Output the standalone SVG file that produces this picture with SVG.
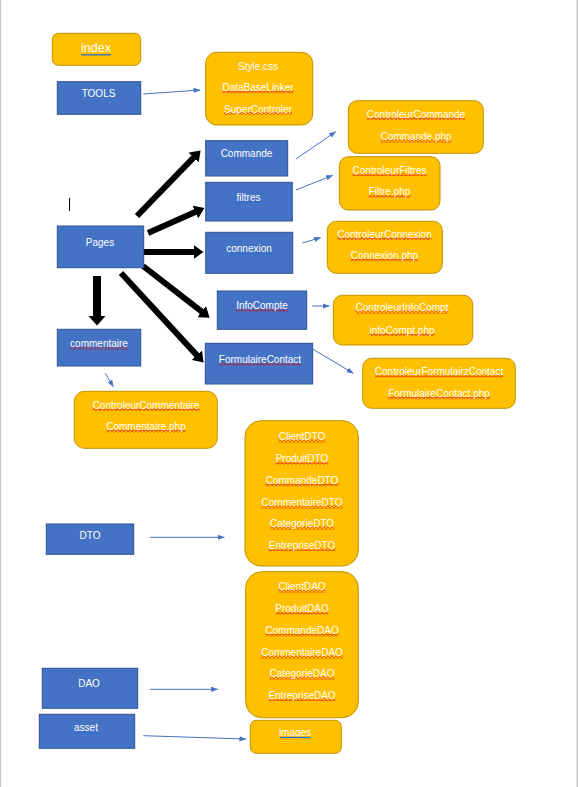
<svg xmlns="http://www.w3.org/2000/svg" width="578" height="787" viewBox="0 0 578 787">
<style>
.or{fill:#FFC000;stroke:#BF9000;stroke-width:1}
.bl{fill:#4472C4;stroke:#2F528F;stroke-width:1}
.t{font-family:"Liberation Sans",Arial,sans-serif;font-size:10px;fill:#fff;text-anchor:middle}
.wv{fill:url(#wave)}
.ul{stroke:#2F6FD0;stroke-width:1.3}
.thin{stroke:#4472C4;stroke-width:1;fill:none;marker-end:url(#ah)}
.thick{stroke:#000;stroke-width:6;fill:none;marker-end:url(#bh)}
</style>
<defs>
<pattern id="wave" patternUnits="userSpaceOnUse" width="4" height="3">
<path d="M0,2.5 L2,0.6 L4,2.5" stroke="#E00000" stroke-width="0.9" fill="none"/>
</pattern>
<marker id="ah" markerUnits="userSpaceOnUse" viewBox="0 0 8 6" markerWidth="7" markerHeight="5.5" refX="7.5" refY="3" orient="auto">
<path d="M0,0 L8,3 L0,6 z" fill="#4472C4"/>
</marker>
<marker id="bh" markerUnits="userSpaceOnUse" viewBox="0 0 10 14" markerWidth="10" markerHeight="14" refX="0.5" refY="7" orient="auto">
<path d="M0,0 L10,7 L0,14 z" fill="#000"/>
</marker>
<marker id="bh2" markerUnits="userSpaceOnUse" viewBox="0 0 10 18" markerWidth="10" markerHeight="18" refX="0.5" refY="9" orient="auto">
<path d="M0,0 L10,9 L0,18 z" fill="#000"/>
</marker>
</defs>
<rect x="0" y="0" width="578" height="787" fill="#fff"/>
<line x1="0.5" y1="0" x2="0.5" y2="787" stroke="#C6C6C6" stroke-width="1.5"/>
<line x1="577.3" y1="0" x2="577.3" y2="787" stroke="#C6C6C6" stroke-width="1.5"/>
<line x1="69.5" y1="198" x2="69.5" y2="211" stroke="#000" stroke-width="1"/>

<g id="connectors">
<line class="thin" x1="143.3" y1="94" x2="200" y2="90"/>
<line class="thin" x1="296" y1="159" x2="335.7" y2="131.7"/>
<line class="thin" x1="296" y1="190" x2="332.7" y2="175.3"/>
<line class="thin" x1="302.3" y1="243" x2="320.7" y2="237.7"/>
<line class="thin" x1="312.3" y1="306" x2="329.3" y2="306"/>
<line class="thin" x1="312.7" y1="349" x2="353.3" y2="373.3"/>
<line class="thin" x1="105.3" y1="373.3" x2="113.3" y2="386.7"/>
<line class="thin" x1="150" y1="537.3" x2="224.3" y2="537.3"/>
<line class="thin" x1="150" y1="689.3" x2="217.7" y2="689.3"/>
<line class="thin" x1="143.3" y1="735.7" x2="246" y2="739"/>
<line class="thick" x1="137" y1="216" x2="194" y2="157.2"/>
<line class="thick" x1="148" y1="233" x2="195.8" y2="211.8"/>
<line class="thick" x1="143" y1="252" x2="194" y2="252"/>
<line class="thick" x1="143" y1="266" x2="202.1" y2="311.9"/>
<line class="thick" x1="121" y1="273" x2="197.2" y2="355.6"/>
<line x1="97" y1="276" x2="97" y2="316" stroke="#000" stroke-width="8" marker-end="url(#bh2)"/>
</g>

<g id="index">
<rect class="or" x="52.3" y="33.3" width="88.4" height="32" rx="6"/>
<text class="t" x="96" y="52" style="font-size:12.5px">index</text>
<line class="ul" x1="81" y1="54.8" x2="111" y2="54.8"/>
</g>
<g id="tools">
<rect class="bl" x="57.3" y="81.7" width="83.4" height="32.6"/>
<text class="t" x="98.5" y="97">TOOLS</text>
</g>
<g id="tools-files">
<rect class="or" x="205.7" y="52.3" width="107" height="72.7" rx="11"/>
<text class="t" x="258" y="70">Style.css</text>
<rect class="wv" x="222.5" y="90.5" width="71" height="3"/>
<text class="t" x="258" y="91">DataBaseLinker</text>
<rect class="wv" x="224" y="112" width="68" height="3"/>
<text class="t" x="258" y="112.5">SuperControler</text>
</g>

<g id="commande">
<rect class="bl" x="205.7" y="140.7" width="82" height="35.3"/>
<text class="t" x="246.5" y="157">Commande</text>
</g>
<g id="commande-files">
<rect class="or" x="348.3" y="100.7" width="135" height="52.6" rx="9"/>
<rect class="wv" x="367" y="117" width="98" height="3"/>
<text class="t" x="416" y="117.5">ControleurCommande</text>
<rect class="wv" x="380.5" y="139.5" width="71" height="3"/>
<text class="t" x="416" y="140">Commande.php</text>
</g>

<g id="filtres">
<rect class="bl" x="205.7" y="182.3" width="86.6" height="38.7"/>
<text class="t" x="248.5" y="200.5">filtres</text>
<line class="ul" x1="235.7" y1="202" x2="261.3" y2="202"/>
</g>
<g id="filtres-files">
<rect class="or" x="339.3" y="156.7" width="100.7" height="53.3" rx="9"/>
<rect class="wv" x="352.5" y="173" width="74" height="3"/>
<text class="t" x="389.5" y="173.5">ControleurFiltres</text>
<rect class="wv" x="368.5" y="194.5" width="42" height="3"/>
<text class="t" x="389.5" y="195">Filtre.php</text>
</g>

<g id="connexion">
<rect class="bl" x="205.7" y="232.3" width="87" height="41"/>
<text class="t" x="249" y="252">connexion</text>
<line class="ul" x1="226" y1="254.2" x2="271.7" y2="254.2"/>
</g>
<g id="connexion-files">
<rect class="or" x="327.3" y="221.3" width="115" height="52" rx="9"/>
<rect class="wv" x="337.5" y="237" width="94" height="3"/>
<text class="t" x="384.5" y="237.5">ControleurConnexion</text>
<rect class="wv" x="351" y="258.5" width="67" height="3"/>
<text class="t" x="384.5" y="259">Connexion.php</text>
</g>

<g id="infocompte">
<rect class="bl" x="217.3" y="291" width="89.4" height="38.3"/>
<rect class="wv" x="236" y="308.5" width="52" height="3"/>
<text class="t" x="262" y="309">InfoCompte</text>
</g>
<g id="infocompte-files">
<rect class="or" x="333.3" y="295.3" width="139.4" height="49.7" rx="9"/>
<rect class="wv" x="355.5" y="310.5" width="93" height="3"/>
<text class="t" x="402" y="311">ControleurInfoCompt</text>
<rect class="wv" x="369.5" y="333" width="65" height="3"/>
<text class="t" x="402" y="333.5">infoCompt.php</text>
</g>

<g id="formulairecontact">
<rect class="bl" x="205.3" y="343.3" width="107.4" height="40.7"/>
<rect class="wv" x="219" y="362.5" width="82" height="3"/>
<text class="t" x="260" y="363">FormulaireContact</text>
</g>
<g id="formulairecontact-files">
<rect class="or" x="362.7" y="358.3" width="152.6" height="50" rx="9"/>
<rect class="wv" x="375" y="374.5" width="128" height="3"/>
<text class="t" x="439" y="375">ControleurFormulairzContact</text>
<rect class="wv" x="388" y="396.5" width="102" height="3"/>
<text class="t" x="439" y="397">FormulaireContact.php</text>
</g>

<g id="pages">
<rect class="bl" x="57.3" y="226" width="86.4" height="41.7"/>
<text class="t" x="100" y="246">Pages</text>
</g>

<g id="commentaire">
<rect class="bl" x="57.3" y="329.3" width="83.4" height="36.7"/>
<rect class="wv" x="70" y="346.5" width="58" height="3"/>
<text class="t" x="99" y="347">commentaire</text>
</g>
<g id="commentaire-files">
<rect class="or" x="74.3" y="391.3" width="143" height="57" rx="10"/>
<rect class="wv" x="92.5" y="408" width="107" height="3"/>
<text class="t" x="146" y="408.5">ControleurCommentaire</text>
<rect class="wv" x="106.5" y="429.5" width="79" height="3"/>
<text class="t" x="146" y="430">Commentaire.php</text>
</g>

<g id="dto">
<rect class="bl" x="46.3" y="524" width="87.4" height="30.3"/>
<text class="t" x="90" y="538.5">DTO</text>
</g>
<g id="dto-files">
<rect class="or" x="245" y="420.7" width="113.3" height="145.3" rx="16"/>
<rect class="wv" x="278.5" y="439.5" width="47" height="3"/>
<text class="t" x="302" y="440">ClientDTO</text>
<rect class="wv" x="275.5" y="461.5" width="53" height="3"/>
<text class="t" x="302" y="462">ProduitDTO</text>
<rect class="wv" x="265.5" y="483.5" width="73" height="3"/>
<text class="t" x="302" y="484">CommandeDTO</text>
<rect class="wv" x="261.5" y="505.5" width="81" height="3"/>
<text class="t" x="302" y="506">CommentaireDTO</text>
<rect class="wv" x="270" y="526.5" width="64" height="3"/>
<text class="t" x="302" y="527">CategorieDTO</text>
<rect class="wv" x="268.5" y="548" width="67" height="3"/>
<text class="t" x="302" y="548.5">EntrepriseDTO</text>
</g>

<g id="dao">
<rect class="bl" x="42.3" y="668.3" width="95.4" height="40"/>
<text class="t" x="89" y="687">DAO</text>
</g>
<g id="dao-files">
<rect class="or" x="245.7" y="571.7" width="112.6" height="146" rx="16"/>
<rect class="wv" x="278.5" y="589.5" width="47" height="3"/>
<text class="t" x="302" y="590">ClientDAO</text>
<rect class="wv" x="275.5" y="611.5" width="53" height="3"/>
<text class="t" x="302" y="612">ProduitDAO</text>
<rect class="wv" x="265.5" y="633.5" width="73" height="3"/>
<text class="t" x="302" y="634">CommandeDAO</text>
<rect class="wv" x="261" y="655.5" width="82" height="3"/>
<text class="t" x="302" y="656">CommentaireDAO</text>
<rect class="wv" x="269.5" y="676.5" width="65" height="3"/>
<text class="t" x="302" y="677">CategorieDAO</text>
<rect class="wv" x="268.5" y="698" width="67" height="3"/>
<text class="t" x="302" y="698.5">EntrepriseDAO</text>
</g>

<g id="asset">
<rect class="bl" x="39.3" y="714.3" width="95.4" height="34"/>
<text class="t" x="86" y="731">asset</text>
<line class="ul" x1="75" y1="733" x2="97" y2="733"/>
</g>
<g id="images">
<rect class="or" x="250.3" y="720.3" width="91" height="33" rx="6"/>
<text class="t" x="295" y="736">images</text>
<line class="ul" x1="280" y1="737.5" x2="310.7" y2="737.5"/>
</g>
</svg>
